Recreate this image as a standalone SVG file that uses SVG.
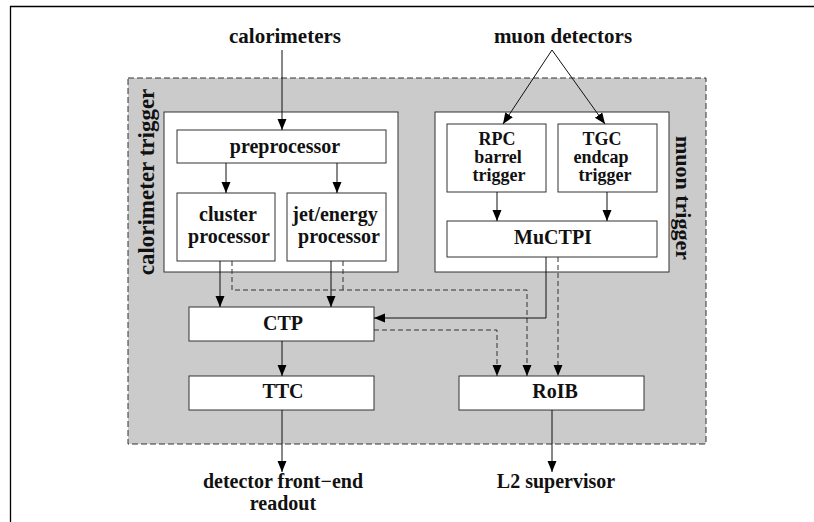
<svg xmlns="http://www.w3.org/2000/svg" width="814" height="522" viewBox="0 0 814 522">
<defs>
<style>
text{font-family:"Liberation Serif","Times New Roman",serif;font-weight:bold;fill:#111;font-size:20px;text-anchor:middle}
.box{fill:#fff;stroke:#333;stroke-width:1}
.ln{fill:none;stroke:#111;stroke-width:1}
.dl{fill:none;stroke:#333;stroke-width:1;stroke-dasharray:5,3}
.big{font-size:21px}
.tight{font-size:18px}
</style>
<marker id="ah" markerUnits="userSpaceOnUse" markerWidth="12" markerHeight="10" refX="11" refY="4.5" orient="auto">
<path d="M0,0 L11,4.5 L0,9 z" fill="#000"/>
</marker>
</defs>
<rect width="814" height="522" fill="#fff"/>
<path d="M10.5,522 V6.5 H814" fill="none" stroke="#000" stroke-width="1.3"/>
<rect id="region" x="128" y="78" width="578" height="366" fill="#cbcbcb" stroke="#333" stroke-width="1" stroke-dasharray="6,3"/>

<g id="calo-group">
<rect class="box" x="164" y="112" width="234" height="160"/>
<text transform="translate(154,182) rotate(-90)" style="font-size:23px">calorimeter trigger</text>
</g>
<g id="muon-group">
<rect class="box" x="435" y="112" width="234" height="160"/>
<text transform="translate(676,198) rotate(90)" style="font-size:22px">muon trigger</text>
</g>

<g id="calorimeters"><text class="big" x="285" y="43">calorimeters</text></g>
<g id="muondet"><text class="big" x="563" y="43">muon detectors</text></g>

<g id="preprocessor"><rect class="box" x="177" y="130" width="209" height="33"/><text x="285" y="153">preprocessor</text></g>
<g id="cluster"><rect class="box" x="177" y="193" width="98" height="68"/><text x="228" y="221">cluster</text><text x="229" y="243">processor</text></g>
<g id="jet"><rect class="box" x="287" y="193" width="99" height="68"/><text x="335" y="221">jet/energy</text><text x="339" y="243">processor</text></g>
<g id="rpc"><rect class="box" x="447" y="124" width="99" height="68"/><text class="tight" x="497" y="145">RPC</text><text class="tight" x="498" y="163">barrel</text><text class="tight" x="499" y="181">trigger</text></g>
<g id="tgc"><rect class="box" x="558" y="124" width="99" height="68"/><text class="tight" x="602" y="145">TGC</text><text class="tight" x="601" y="163">endcap</text><text class="tight" x="605" y="181">trigger</text></g>
<g id="muctpi"><rect class="box" x="447" y="221" width="210" height="36"/><text x="553" y="244">MuCTPI</text></g>
<g id="ctp"><rect class="box" x="189" y="307" width="185" height="34"/><text x="283" y="330">CTP</text></g>
<g id="ttc"><rect class="box" x="189" y="376" width="185" height="34"/><text x="283" y="398">TTC</text></g>
<g id="roib"><rect class="box" x="459" y="376" width="185" height="34"/><text x="555" y="398">RoIB</text></g>

<g id="frontend"><text x="283" y="488">detector front−end</text><text x="283" y="510">readout</text></g>
<g id="l2"><text x="556" y="488">L2 supervisor</text></g>

<g id="connectors">
<path class="ln" d="M282,50 V130" marker-end="url(#ah)"/>
<path class="ln" d="M552,50 L503,124" marker-end="url(#ah)"/>
<path class="ln" d="M552,50 L605,124" marker-end="url(#ah)"/>
<path class="ln" d="M226,163 V193" marker-end="url(#ah)"/>
<path class="ln" d="M337,163 V193" marker-end="url(#ah)"/>
<path class="ln" d="M497,192 V221" marker-end="url(#ah)"/>
<path class="ln" d="M607,192 V221" marker-end="url(#ah)"/>
<path class="ln" d="M220,261 V307" marker-end="url(#ah)"/>
<path class="ln" d="M331,261 V307" marker-end="url(#ah)"/>
<path class="dl" d="M232,261 V290 H527 V376" marker-end="url(#ah)"/>
<path class="dl" d="M343,261 V290"/>
<path class="ln" d="M546,257 V318 H374" marker-end="url(#ah)"/>
<path class="dl" d="M558,257 V376" marker-end="url(#ah)"/>
<path class="dl" d="M374,330 H497 V376" marker-end="url(#ah)"/>
<path class="ln" d="M282,341 V376" marker-end="url(#ah)"/>
<path class="ln" d="M282,410 V472" marker-end="url(#ah)"/>
<path class="ln" d="M552,410 V472" marker-end="url(#ah)"/>
</g>
</svg>
